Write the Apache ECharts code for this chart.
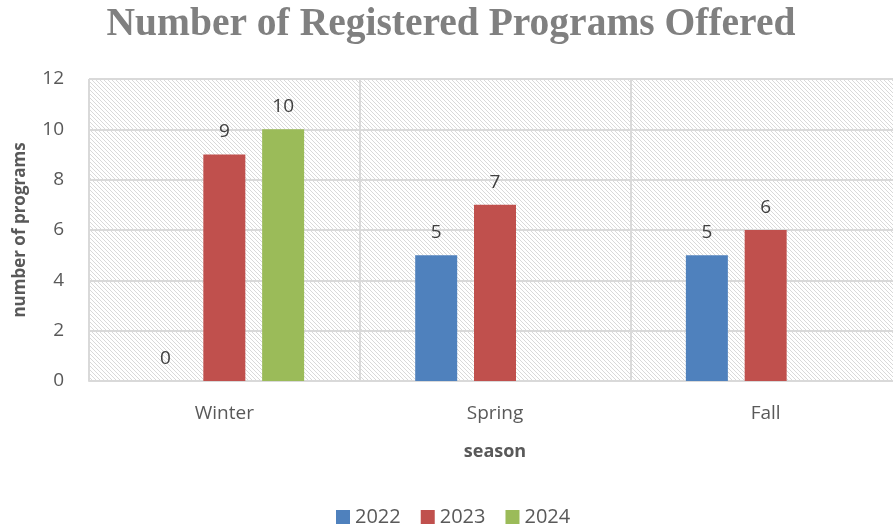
<!DOCTYPE html>
<html><head><meta charset="utf-8">
<script src="https://cdn.jsdelivr.net/npm/echarts@6/dist/echarts.min.js"></script>
<style>html,body{margin:0;padding:0;background:#fff;overflow:hidden}#c{width:910px;height:529px}</style>
</head><body><div id="c"></div>
<script>
const categories = ['Winter', 'Spring', 'Fall'];
const seriesNames = ['2022', '2023', '2024'];
const values2022 = [0, 5, 5];
const values2023 = [9, 7, 6];
const values2024 = [10, null, null];
const colors = ['#4F81BD', '#C0504D', '#9BBB59'];

const pc = document.createElement('canvas');
pc.width = 4; pc.height = 4;
const g = pc.getContext('2d');
g.fillStyle = '#ffffff'; g.fillRect(0,0,4,4);
g.fillStyle = '#d9d9d9';
for (let i = 0; i < 4; i++) { g.fillRect(i, i, 1, 1); }

const chart = echarts.init(document.getElementById('c'));
const font = '"Open Sans", sans-serif';
const labelStyle = { show: true, position: 'top', distance: 13, fontSize: 19, color: '#404040', fontFamily: font };
const allVals = [values2022, values2023, values2024];
chart.setOption({
  animation: false,
  title: { text: 'Number of Registered Programs Offered', left: 446, top: 0, textAlign: 'center',
    textStyle: { fontFamily: '"Liberation Serif", serif', fontWeight: 'bold', fontSize: 39.5, color: '#808080' } },
  legend: { bottom: -3, left: 331, itemWidth: 14, itemHeight: 14, itemGap: 20,
    icon: 'rect', textStyle: { fontSize: 20, color: '#595959', fontFamily: font } },
  grid: { left: 89, width: 812, top: 79, height: 302, show: true,
    backgroundColor: { image: pc, repeat: 'repeat' }, borderColor: '#d9d9d9', borderWidth: 1 },
  xAxis: { type: 'category', data: categories,
    name: 'season', nameLocation: 'middle', nameGap: 62,
    nameTextStyle: { fontSize: 18, fontWeight: 'bold', color: '#595959', fontFamily: font },
    axisLine: { lineStyle: { color: '#d9d9d9', width: 2 } }, axisTick: { show: false },
    axisLabel: { fontSize: 19, color: '#595959', fontFamily: font, margin: 23 },
    splitLine: { show: true, lineStyle: { color: '#d9d9d9', width: 2 } } },
  yAxis: { type: 'value', min: 0, max: 12, interval: 2,
    name: 'number of programs', nameLocation: 'middle', nameGap: 60,
    nameTextStyle: { fontSize: 17, fontWeight: 'bold', color: '#595959', fontFamily: font },
    axisLine: { show: false }, axisTick: { show: false },
    axisLabel: { fontSize: 19, color: '#595959', fontFamily: font, margin: 25 },
    splitLine: { lineStyle: { color: '#d9d9d9', width: 2 } } },
  series: seriesNames.map((n, i) => ({
    name: n, type: 'bar', data: allVals[i], barWidth: 42, barGap: '40%',
    itemStyle: { color: colors[i] }, label: labelStyle
  }))
});
</script></body></html>
